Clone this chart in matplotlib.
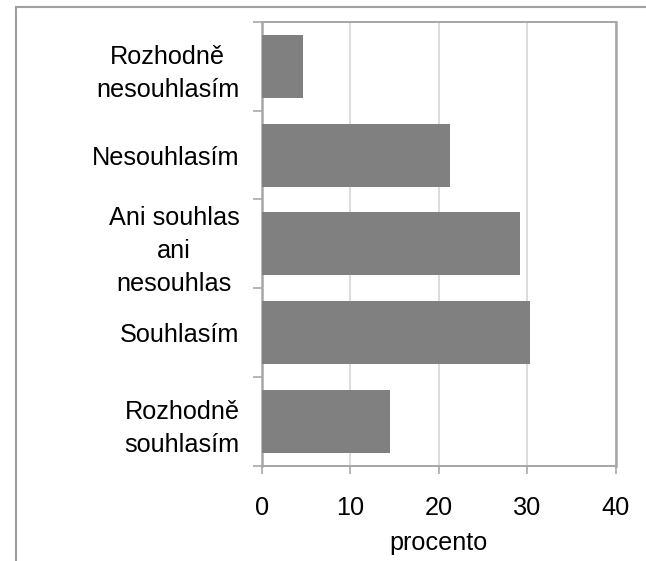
import numpy as np
import matplotlib.pyplot as plt
from matplotlib.lines import Line2D

# answers, listed from top to bottom
odpovedi = ["Rozhodně\nnesouhlasím", "Nesouhlasím", "Ani souhlas\nani\nnesouhlas",
            "Souhlasím", "Rozhodně\nsouhlasím"]
procenta = [4.7, 21.3, 29.2, 30.3, 14.5]
xticks = [0, 10, 20, 30, 40]

plt.rcParams['font.family'] = ['Liberation Sans', 'DejaVu Sans']

W, H = 646, 561
fig = plt.figure(figsize=(W / 100, H / 100), dpi=100)
ax = fig.add_axes([261.7 / W, 1 - 465.7 / H, 354 / W, 443.7 / H])

pos = np.arange(len(odpovedi))
ax.barh(pos, procenta, height=0.71, color="#808080", zorder=3)

ax.set_xlim(0, 40)
ax.set_ylim(len(odpovedi) - 0.5, -0.5)
ax.set_xticks(xticks)
ax.xaxis.grid(True, color="#d9d9d9", linewidth=1.3, zorder=0)

ax.set_yticks(pos)
ax.set_yticklabels(odpovedi, fontsize=18.2, ha="right", multialignment="center",
                   linespacing=1.48)
ax.set_yticks(np.arange(-0.5, len(odpovedi)), minor=True)
ax.tick_params(axis="y", which="major", length=0, pad=16)
ax.tick_params(axis="y", which="minor", length=6.5, width=1.1, color="#a0a0a0")
ax.tick_params(axis="x", length=6, width=1.1, color="#a0a0a0", labelsize=18.2, pad=16)
ax.set_xlabel("procento", fontsize=18.2, labelpad=8)

for s in ax.spines.values():
    s.set_color("#a6a6a6")
    s.set_linewidth(1.4)
ax.spines["right"].set_linewidth(1.8)
ax.spines["left"].set_linewidth(1.8)

# outer chart frame
x0 = 15.7 / W
y0 = 1 - 6.7 / H
fig.add_artist(Line2D([x0, x0], [0, y0], color="#a0a0a0", linewidth=1.5,
                      transform=fig.transFigure))
fig.add_artist(Line2D([x0, 1], [y0, y0], color="#a0a0a0", linewidth=1.5,
                      transform=fig.transFigure))

fig.savefig("out.png", dpi=100)
